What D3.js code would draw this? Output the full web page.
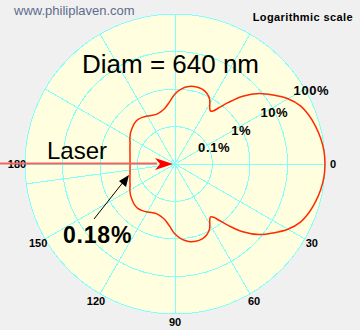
<!DOCTYPE html>
<html>
<head>
  <meta charset="utf-8">
  <title>Diam = 640 nm</title>
  <script src="https://cdn.jsdelivr.net/npm/d3@7"></script>
  <style>
    body { margin: 0; background: #f0f0f0; }
    text { font-family: "Liberation Sans", Arial, sans-serif; }
  </style>
</head>
<body>
  <div id="chart"></div>
  <script>
    // scattering angle (deg) and intensity (% of forward)
    const angles = [0, 5, 10, 15, 20, 25, 30, 35, 40, 45, 49, 52, 54, 56, 58, 60, 62, 66, 70, 75, 80, 85, 90,
      95, 100, 105, 110, 115, 120, 125, 130, 135, 140, 145, 150, 155, 160, 165, 170, 175, 180];
    const intensity = [100, 97, 88, 76, 63, 48, 30, 16, 8.5, 3.6, 1.5, 0.8, 0.57, 0.5, 0.56, 0.72, 0.92, 1.18, 1.33, 1.36, 1.25, 1.03, 0.74,
      0.46, 0.33, 0.28, 0.26, 0.27, 0.30, 0.33, 0.35, 0.34, 0.31, 0.28, 0.245, 0.21, 0.19, 0.175, 0.165, 0.16, 0.158];

    const ringValues = [0.1, 1, 10, 100];
    const ringLabels = ["0.1%", "1%", "10%", "100%"];
    const angleTicks = [0, 30, 60, 90, 120, 150, 180];
    const spokeAngles = [0, 30, 60, 90, 120, 150, 172.4, 180, 210, 240, 270, 300, 330];

    const w = 360, h = 330;
    const cx = 175, cy = 164, R = 150;
    const gridColor = "#80ffff";

    const r = d3.scaleLog().domain([0.01, 100]).range([0, R]);
    const toRad = a => (a + 90) * Math.PI / 180; // 0 deg points right, clockwise

    const svg = d3.select("#chart").append("svg")
      .attr("width", w)
      .attr("height", h);

    svg.append("text")
      .attr("x", 14).attr("y", 15)
      .attr("font-size", "13px")
      .attr("fill", "#5d6c8c")
      .text("www.philiplaven.com");

    svg.append("text")
      .attr("x", 353).attr("y", 21)
      .attr("text-anchor", "end")
      .attr("font-size", "11px")
      .attr("font-weight", "bold")
      .attr("letter-spacing", "0.4px")
      .text("Logarithmic scale");

    const g = svg.append("g").attr("transform", `translate(${cx},${cy})`);

    g.append("circle").attr("r", R).attr("fill", "#ffffdf");

    g.selectAll(".ring")
      .data(ringValues)
      .enter()
      .append("circle")
      .attr("r", d => r(d))
      .attr("fill", "none")
      .attr("stroke", gridColor)
      .attr("shape-rendering", "crispEdges");

    g.selectAll(".spoke")
      .data(spokeAngles)
      .enter()
      .append("line")
      .attr("x2", d => R * Math.cos(d * Math.PI / 180))
      .attr("y2", d => R * Math.sin(d * Math.PI / 180))
      .attr("stroke", gridColor)
      .attr("shape-rendering", "crispEdges");

    // scattering curve, mirrored for the upper half
    const pts = angles.map((a, i) => ({ a: a, v: intensity[i] }));
    const full = pts.concat(pts.slice(1, -1).reverse().map(d => ({ a: 360 - d.a, v: d.v })));

    const line = d3.lineRadial()
      .angle(d => toRad(d.a))
      .radius(d => r(d.v))
      .curve(d3.curveCatmullRomClosed.alpha(0.5));

    g.append("path")
      .datum(full)
      .attr("d", line)
      .attr("fill", "none")
      .attr("stroke", "#ff2a00")
      .attr("stroke-width", 1.5);

    // ring labels along the 330 deg spoke
    g.selectAll(".rlab")
      .data(ringValues)
      .enter()
      .append("text")
      .attr("x", (d, i) => r(d) * Math.cos(-28 * Math.PI / 180) + (i === 0 ? 6 : i === 3 ? 4 : 0))
      .attr("y", (d, i) => r(d) * Math.sin(-28 * Math.PI / 180) + (i === 3 ? -4 : 1) + 5)
      .attr("text-anchor", "middle")
      .attr("font-size", "13px")
      .attr("font-weight", "bold")
      .attr("letter-spacing", "0.6px")
      .text((d, i) => ringLabels[i]);

    // angle labels
    g.selectAll(".alab")
      .data(angleTicks)
      .enter()
      .append("text")
      .attr("x", d => 158 * Math.cos(d * Math.PI / 180))
      .attr("y", d => 158 * Math.sin(d * Math.PI / 180) + 4)
      .attr("text-anchor", "middle")
      .attr("font-size", "11px")
      .attr("font-weight", "bold")
      .text(d => d);

    // laser beam
    g.append("line")
      .attr("x1", -cx).attr("y1", -0.5)
      .attr("x2", -18).attr("y2", -0.5)
      .attr("stroke", "#f46464")
      .attr("stroke-width", 2);
    g.append("path")
      .attr("d", "M-2,0 L-20,-6 L-15,0 L-20,6 Z")
      .attr("fill", "#ff0000");

    svg.append("text")
      .attr("x", 47).attr("y", 159)
      .attr("font-size", "24px")
      .text("Laser");

    svg.append("text")
      .attr("x", 82).attr("y", 73)
      .attr("font-size", "26px")
      .text("Diam = 640 nm");

    svg.append("text")
      .attr("x", 63).attr("y", 243)
      .attr("font-size", "23px")
      .attr("font-weight", "bold")
      .attr("letter-spacing", "0.8px")
      .text("0.18%");

    // pointer to backscatter value
    svg.append("line")
      .attr("x1", 94).attr("y1", 219)
      .attr("x2", 124).attr("y2", 181)
      .attr("stroke", "black");
    svg.append("path")
      .attr("d", "M129,175 L126,187 L119,181 Z")
      .attr("fill", "black");
  </script>
</body>
</html>
